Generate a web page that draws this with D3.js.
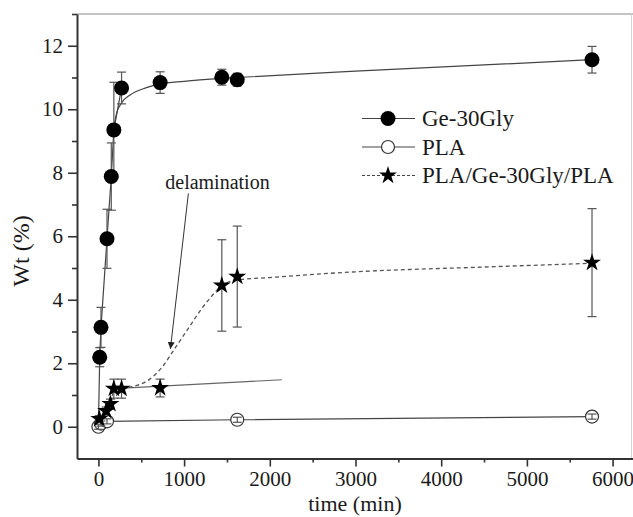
<!DOCTYPE html>
<html lang="en">
<head>
<meta charset="UTF-8">
<title>Wt vs time</title>
<script src="https://cdn.jsdelivr.net/npm/d3@7"></script>
<style>
  body { margin: 0; background: #fff; }
  svg text { font-family: "Liberation Serif", serif !important; fill: #1a1a1a; }
</style>
</head>
<body>
<svg width="633" height="517" id="mainsvg"></svg>
<script>
// Ge-30Gly (filled circles)
const geTime = [15, 30, 100, 150, 180, 270, 720, 1440, 1620, 5760];
const geWt   = [2.19, 3.13, 5.92, 7.88, 9.35, 10.67, 10.84, 11.01, 10.93, 11.56];
const geErr  = [0.3, 0.63, 0.93, 1.06, 1.5, 0.5, 0.34, 0.25, 0.2, 0.42];
// fitted curve
const geFitT = [175, 215, 270, 370, 560, 720, 1000, 1440, 1620, 3000, 5760];
const geFitW = [9.35, 9.9, 10.2, 10.45, 10.68, 10.8, 10.88, 10.97, 11.0, 11.2, 11.56];

// PLA (open circles)
const plaTime = [0, 30, 100, 1620, 5760];
const plaWt   = [0, 0.1, 0.17, 0.22, 0.32];
const plaErr  = [0.08, 0.08, 0.08, 0.08, 0.08];

// PLA/Ge-30Gly/PLA (stars)
const trTime = [10, 90, 140, 180, 270, 720, 1440, 1620, 5760];
const trWt   = [0.25, 0.5, 0.72, 1.2, 1.2, 1.22, 4.45, 4.73, 5.17];
const trErr  = [0.1, 0.12, 0.15, 0.3, 0.3, 0.28, 1.44, 1.59, 1.7];
// straight line before delamination, and dashed curve after it
const preT = [180, 2140];
const preW = [1.2, 1.48];
const postT = [270, 450, 600, 750, 900, 1050, 1200, 1350, 1440, 1620, 2000, 3000, 4500, 5760];
const postW = [1.22, 1.3, 1.5, 1.9, 2.5, 3.1, 3.7, 4.2, 4.45, 4.62, 4.7, 4.88, 5.03, 5.15];

const xTicks = [0, 1000, 2000, 3000, 4000, 5000, 6000];
const xMinor = [500, 1500, 2500, 3500, 4500, 5500];
const yTicks = [0, 2, 4, 6, 8, 10, 12];
const yMinor = [1, 3, 5, 7, 9, 11, 13];

const svg = d3.select('#mainsvg');
const x = d3.scaleLinear().domain([-250, 6250]).range([77, 634]);
const y = d3.scaleLinear().domain([-1, 13]).range([458.5, 14]);

const zip = (a, b) => a.map((v, i) => [v, b[i]]);

// frame (top / right)
svg.append('line').attr('x1', x(-250)).attr('x2', 633).attr('y1', y(13)).attr('y2', y(13))
    .attr('stroke', '#888').attr('stroke-width', 1);
svg.append('line').attr('x1', 631.5).attr('x2', 631.5).attr('y1', y(13)).attr('y2', y(-1))
    .attr('stroke', '#d4d4d4').attr('stroke-width', 1);

// axes
svg.append('g').attr('transform', `translate(0,${y(-1)})`)
    .call(d3.axisBottom(x).tickValues(xTicks).tickSize(8).tickPadding(5).tickSizeOuter(0).tickFormat(d3.format('d')));
svg.append('g').attr('transform', `translate(0,${y(-1)})`)
    .call(d3.axisBottom(x).tickValues(xMinor).tickSize(4).tickFormat('').tickSizeOuter(0))
    .select('.domain').remove();
svg.append('g').attr('transform', `translate(${x(-250)},0)`)
    .call(d3.axisLeft(y).tickValues(yTicks).tickSize(9).tickPadding(5).tickSizeOuter(0));
svg.append('g').attr('transform', `translate(${x(-250)},0)`)
    .call(d3.axisLeft(y).tickValues(yMinor).tickSize(5).tickFormat('').tickSizeOuter(0))
    .select('.domain').remove();
svg.selectAll('.domain').attr('stroke', '#333').attr('stroke-width', 2);
svg.selectAll('.tick line').attr('stroke', '#333').attr('stroke-width', 1.6);
svg.selectAll('.tick text').attr('font-size', 21).attr('font-family', 'Liberation Serif');

svg.append('text').text('time (min)')
    .attr('x', 355).attr('y', 511).attr('text-anchor', 'middle').attr('font-size', 22);
svg.append('text').text('Wt (%)')
    .attr('transform', 'translate(29,251) rotate(-90)').attr('text-anchor', 'middle').attr('font-size', 24);

const line = d3.line().x(d => x(d[0])).y(d => y(d[1]));
const curve = d3.line().x(d => x(d[0])).y(d => y(d[1])).curve(d3.curveMonotoneX);
const g = svg.append('g');

// Ge-30Gly: joined points and fitted curve
g.append('path').datum([[0, 0]].concat(zip(geTime, geWt).slice(0, 6)))
    .attr('d', line).attr('fill', 'none').attr('stroke', '#444').attr('stroke-width', 1.2);
g.append('path').datum(zip(geFitT, geFitW))
    .attr('d', curve).attr('fill', 'none').attr('stroke', '#444').attr('stroke-width', 1.2);

// PLA line
g.append('path').datum(zip(plaTime, plaWt))
    .attr('d', line).attr('fill', 'none').attr('stroke', '#444').attr('stroke-width', 1.2);

// trilayer lines
g.append('path').datum([[0, 0]].concat(zip(trTime, trWt).slice(0, 5)))
    .attr('d', line).attr('fill', 'none').attr('stroke', '#555').attr('stroke-width', 1.2)
    .attr('stroke-dasharray', '4,3');
g.append('path').datum(zip(preT, preW))
    .attr('d', line).attr('fill', 'none').attr('stroke', '#666').attr('stroke-width', 1.2);
g.append('path').datum(zip(postT, postW))
    .attr('d', curve).attr('fill', 'none').attr('stroke', '#555').attr('stroke-width', 1.3)
    .attr('stroke-dasharray', '4,3');

// error bars
function errBars(ts, ws, es) {
    ts.forEach((t, i) => {
        const cx = x(t), y1 = y(ws[i] - es[i]), y2 = y(ws[i] + es[i]);
        const eb = g.append('g').attr('stroke', '#555').attr('stroke-width', 1.2);
        eb.append('line').attr('x1', cx).attr('x2', cx).attr('y1', y1).attr('y2', y2);
        eb.append('line').attr('x1', cx - 4.5).attr('x2', cx + 4.5).attr('y1', y1).attr('y2', y1);
        eb.append('line').attr('x1', cx - 4.5).attr('x2', cx + 4.5).attr('y1', y2).attr('y2', y2);
    });
}
errBars(geTime, geWt, geErr);
errBars(trTime, trWt, trErr);

// markers
const star = d3.symbol().type(d3.symbolStar).size(100);
g.selectAll('.pla').data(zip(plaTime, plaWt)).enter().append('circle')
    .attr('cx', d => x(d[0])).attr('cy', d => y(d[1])).attr('r', 6.5)
    .attr('fill', '#fff').attr('stroke', '#333').attr('stroke-width', 1.2);
errBars(plaTime, plaWt, plaErr);
g.selectAll('.ge').data(zip(geTime, geWt)).enter().append('circle')
    .attr('cx', d => x(d[0])).attr('cy', d => y(d[1])).attr('r', 7.5).attr('fill', '#000');
g.selectAll('.tr').data(zip(trTime, trWt)).enter().append('path')
    .attr('d', star).attr('transform', d => `translate(${x(d[0])},${y(d[1])})`).attr('fill', '#000');

// annotation
svg.append('defs').append('marker').attr('id', 'arr').attr('viewBox', '0 0 10 10')
    .attr('refX', 10).attr('refY', 5).attr('markerWidth', 7).attr('markerHeight', 9)
    .attr('orient', 'auto').attr('markerUnits', 'userSpaceOnUse')
    .append('path').attr('d', 'M0,0L10,5L0,10z').attr('fill', '#222');
svg.append('line').attr('x1', x(1050)).attr('y1', y(7.35)).attr('x2', x(840)).attr('y2', y(2.45))
    .attr('stroke', '#333').attr('stroke-width', 1).attr('marker-end', 'url(#arr)');
svg.append('text').text('delamination').attr('x', x(780)).attr('y', y(7.5)).attr('font-size', 20);

// legend
const legend = [
    {name: 'Ge-30Gly', type: 'fill', dash: null},
    {name: 'PLA', type: 'open', dash: null},
    {name: 'PLA/Ge-30Gly/PLA', type: 'star', dash: '3,2'}
];
legend.forEach((d, i) => {
    const ly = 118.5 + i * 28.5;
    const lg = svg.append('g');
    lg.append('line').attr('x1', 362).attr('x2', 415).attr('y1', ly).attr('y2', ly)
        .attr('stroke', '#444').attr('stroke-width', 1.2).attr('stroke-dasharray', d.dash);
    if (d.type === 'fill') lg.append('circle').attr('cx', 388).attr('cy', ly).attr('r', 7.5).attr('fill', '#000');
    if (d.type === 'open') lg.append('circle').attr('cx', 388).attr('cy', ly).attr('r', 6.5)
        .attr('fill', '#fff').attr('stroke', '#333').attr('stroke-width', 1.2);
    if (d.type === 'star') lg.append('path').attr('d', star).attr('transform', `translate(388,${ly})`).attr('fill', '#000');
    lg.append('text').text(d.name).attr('x', 422).attr('y', ly + 7.5).attr('font-size', 23);
});
</script>
</body>
</html>
